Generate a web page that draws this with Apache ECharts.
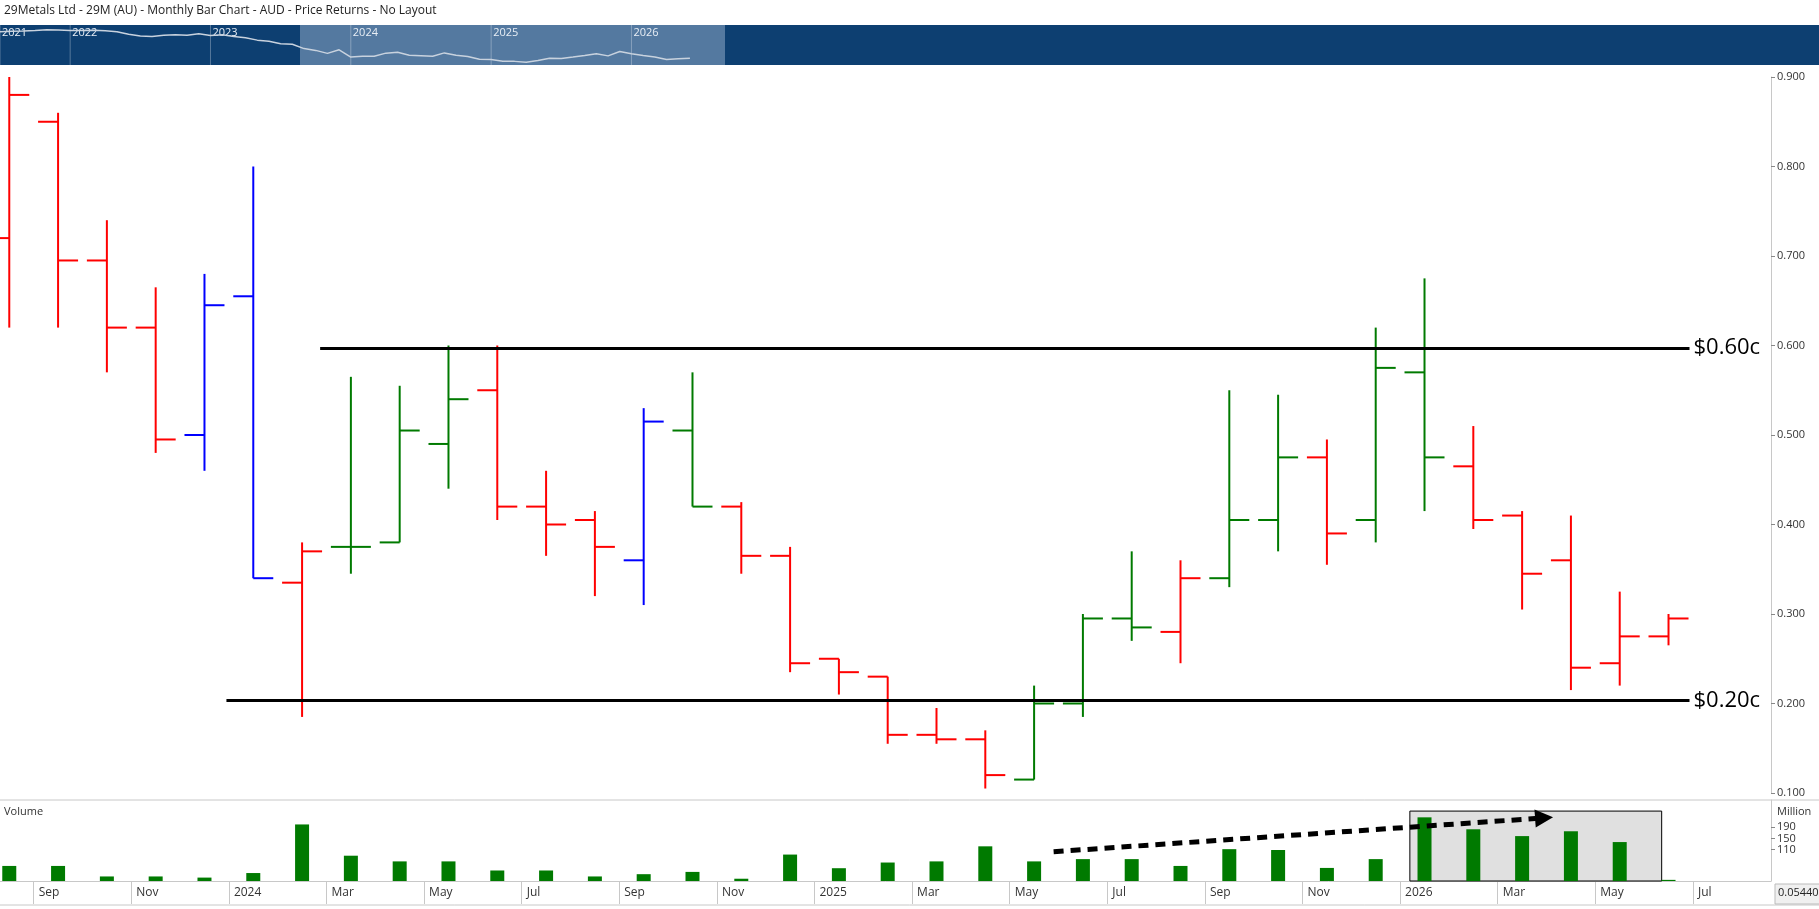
<!DOCTYPE html>
<html>
<head>
<meta charset="utf-8">
<script src="https://cdn.jsdelivr.net/npm/echarts@6/dist/echarts.min.js"></script>
<style>html,body{margin:0;padding:0;background:#fff}#main{width:1819px;height:909px}</style>
</head>
<body>
<div id="main"></div>
<script>
// months Aug 2023 .. Jun 2026
var months = ['Aug','Sep','Oct','Nov','Dec','Jan','Feb','Mar','Apr','May','Jun','Jul','Aug','Sep','Oct','Nov','Dec','Jan','Feb','Mar','Apr','May','Jun','Jul','Aug','Sep','Oct','Nov','Dec','Jan','Feb','Mar','Apr','May','Jun'];
var opens  = [.72,.85,.695,.62,.50,.655,.335,.375,.38,.49,.55,.42,.405,.36,.505,.42,.365,.25,.23,.165,.16,.115,.20,.295,.28,.34,.405,.475,.405,.57,.465,.41,.36,.245,.275];
var highs  = [.9,.86,.74,.665,.68,.80,.38,.565,.555,.60,.60,.46,.415,.53,.57,.425,.375,.25,.23,.195,.17,.22,.30,.37,.36,.55,.545,.495,.62,.675,.51,.415,.41,.325,.30];
var lows   = [.62,.62,.57,.48,.46,.34,.185,.345,.38,.44,.405,.365,.32,.31,.42,.345,.235,.21,.155,.155,.105,.115,.185,.27,.245,.33,.37,.355,.38,.415,.395,.305,.215,.22,.265];
var closes = [.88,.695,.62,.495,.645,.34,.37,.375,.505,.54,.42,.40,.375,.515,.42,.365,.245,.235,.165,.16,.12,.20,.295,.285,.34,.405,.475,.39,.575,.475,.405,.345,.24,.275,.295];
// 0 red, 1 green, 2 blue
var barColor = [0,0,0,0,2,2,0,1,1,1,0,0,0,2,1,0,0,0,0,0,0,1,1,1,0,1,1,0,1,1,0,0,0,0,0];
var volumes = [53,53,16,16,12,28,199,89,69,69,37,37,16,24,32,8,93,45,65,69,122,69,77,77,53,112,109,46,77,224,182,158,175,137,4];
var tickLabels = ['Sep','Nov','2024','Mar','May','Jul','Sep','Nov','2025','Mar','May','Jul','Sep','Nov','2026','Mar','May','Jul'];
var tickPos = [0.5,2.5,4.5,6.5,8.5,10.5,12.5,14.5,16.5,18.5,20.5,22.5,24.5,26.5,28.5,30.5,32.5,34.5];
var levels = [
  {name:'$0.60c', value:0.597, from:6.37, to:34.43},
  {name:'$0.20c', value:0.2035, from:4.45, to:34.43}
];
// navigator closes Jul 2021 .. Jul 2023, then the visible months
var navEarly = [1.40,1.42,1.43,1.45,1.48,1.47,1.45,1.45,1.46,1.44,1.40,1.30,1.22,1.20,1.25,1.28,1.25,1.32,1.24,1.28,1.20,1.15,1.05,1.0,0.9];
var navYears = ['2021','2022','2023','2024','2025','2026'];
var navYearPos = [0,6,18,30,42,54];

var colors = ['#ff0000','#007a00','#0000ff'];
var ohlc = months.map(function (m, i) { return [i, opens[i], highs[i], lows[i], closes[i], barColor[i]]; });
var vol = volumes.map(function (v, i) { return [i, v]; });
var nav = navEarly.concat(closes).map(function (v, i) { return [i, v]; });

var myChart = echarts.init(document.getElementById('main'));
var font = '"Open Sans", "Noto Sans", sans-serif';
var xMin = -0.19, xMax = 36.1;
var navMax = 62, navW = 725;

var option = {
  animation: false,
  textStyle: {fontFamily: font},
  grid: [
    {left: 0, right: 48, top: 77, height: 716},
    {left: 0, right: 48, top: 800, height: 81},
    {left: 0, width: navW, top: 27, height: 37}
  ],
  xAxis: [
    {type: 'value', gridIndex: 0, min: xMin, max: xMax, show: false},
    {type: 'value', gridIndex: 1, min: xMin, max: xMax,
      axisLine: {lineStyle: {color: '#c8c8c8'}},
      splitLine: {show: false},
      axisTick: {customValues: tickPos, length: 23, lineStyle: {color: '#c8c8c8'}},
      axisLabel: {customValues: tickPos, formatter: function (v) { return tickLabels[tickPos.indexOf(v)]; },
        align: 'left', padding: [0, 0, 0, 5], margin: 6, color: '#333', fontSize: 12}},
    {type: 'value', gridIndex: 2, min: 0, max: navMax, show: false}
  ],
  yAxis: [
    {type: 'value', gridIndex: 0, position: 'right', min: 0.1, max: 0.9, interval: 0.1,
      axisLine: {show: true, onZero: false, lineStyle: {color: '#c8c8c8'}},
      axisTick: {show: true, length: 4, lineStyle: {color: '#888'}},
      splitLine: {show: false},
      axisLabel: {formatter: function (v) { return v.toFixed(3); }, color: '#333', fontSize: 11, margin: 6}},
    {type: 'value', gridIndex: 1, position: 'right', min: 0, max: 285,
      axisLine: {show: true, onZero: false, lineStyle: {color: '#c8c8c8'}},
      axisTick: {show: true, length: 4, customValues: [110, 150, 190], lineStyle: {color: '#888'}},
      splitLine: {show: false},
      axisLabel: {customValues: [110, 150, 190], color: '#333', fontSize: 11, margin: 6}},
    {type: 'value', gridIndex: 2, min: 0.05, max: 1.6, show: false}
  ],
  graphic: [
    {type: 'text', left: 4, top: 5, style: {text: '29Metals Ltd - 29M (AU) - Monthly Bar Chart - AUD - Price Returns - No Layout', font: '12px ' + font, fill: '#222'}},
    {type: 'rect', z: -10, shape: {x: 0, y: 25, width: 1819, height: 40}, style: {fill: '#0d3f71'}},
    {type: 'rect', z: -9, shape: {x: 300, y: 25, width: 425, height: 40}, style: {fill: '#5479a0'}},
    {type: 'line', shape: {x1: 0, y1: 800, x2: 1819, y2: 800}, style: {stroke: '#c8c8c8', lineWidth: 1}},
    {type: 'line', shape: {x1: 0, y1: 905, x2: 1819, y2: 905}, style: {stroke: '#c8c8c8', lineWidth: 1}},
    {type: 'text', left: 4, top: 806, style: {text: 'Volume', font: '11px ' + font, fill: '#333'}},
    {type: 'text', left: 1777, top: 806, style: {text: 'Million', font: '11px ' + font, fill: '#333'}},
    {type: 'rect', shape: {x: 1775, y: 884, width: 50, height: 20}, style: {fill: '#f0f0f0', stroke: '#bbb'}},
    {type: 'text', left: 1778, top: 887, style: {text: '0.05440', font: '11px ' + font, fill: '#222'}}
  ].concat(navYears.map(function (y, i) {
    var x = navYearPos[i] / navMax * navW + 2;
    return {type: 'group', children: [
      {type: 'line', shape: {x1: x - 2, y1: 25, x2: x - 2, y2: 65}, style: {stroke: 'rgba(255,255,255,0.3)'}},
      {type: 'text', x: x, y: 27, style: {text: y, font: '11px ' + font, fill: '#e8eef5'}}
    ]};
  })),
  series: [
    {
      type: 'custom', xAxisIndex: 0, yAxisIndex: 0, data: ohlc, clip: true,
      renderItem: function (params, api) {
        var x = api.value(0);
        var o = api.coord([x, api.value(1)]);
        var h = api.coord([x, api.value(2)]);
        var l = api.coord([x, api.value(3)]);
        var c = api.coord([x, api.value(4)]);
        var col = colors[api.value(5)];
        var w = 20;
        var st = {stroke: col, lineWidth: 2};
        return {type: 'group', children: [
          {type: 'line', shape: {x1: h[0], y1: h[1], x2: l[0], y2: l[1]}, style: st},
          {type: 'line', shape: {x1: o[0] - w, y1: o[1], x2: o[0], y2: o[1]}, style: st},
          {type: 'line', shape: {x1: c[0], y1: c[1], x2: c[0] + w, y2: c[1]}, style: st}
        ]};
      }
    },
    {
      type: 'line', xAxisIndex: 0, yAxisIndex: 0, data: [], symbol: 'none',
      markLine: {
        silent: true, symbol: 'none',
        lineStyle: {color: '#000', width: 3, type: 'solid'},
        label: {show: true, position: 'end', formatter: '{b}', color: '#000', fontSize: 22, fontFamily: font, distance: 4},
        data: levels.map(function (lv) {
          return [{name: lv.name, coord: [lv.from, lv.value]}, {coord: [lv.to, lv.value]}];
        })
      }
    },
    {
      type: 'bar', xAxisIndex: 1, yAxisIndex: 1, data: vol, barWidth: 14, z: 3,
      itemStyle: {color: '#007a00'},
      markArea: {
        silent: true,
        itemStyle: {color: '#e0e0e0', borderColor: '#000', borderWidth: 1},
        data: [[{coord: [28.7, 0]}, {coord: [33.86, 246]}]]
      },
      markLine: {
        silent: true, symbol: ['none', 'triangle'], symbolSize: [18, 18],
        lineStyle: {color: '#000', width: 5, type: [10, 7]},
        label: {show: false},
        data: [[{coord: [21.4, 103]}, {coord: [31.45, 222]}]]
      }
    },
    {
      type: 'line', xAxisIndex: 2, yAxisIndex: 2, data: nav, symbol: 'none',
      lineStyle: {color: '#c8d2de', width: 1.5}
    }
  ]
};
myChart.setOption(option);
</script>
</body>
</html>
